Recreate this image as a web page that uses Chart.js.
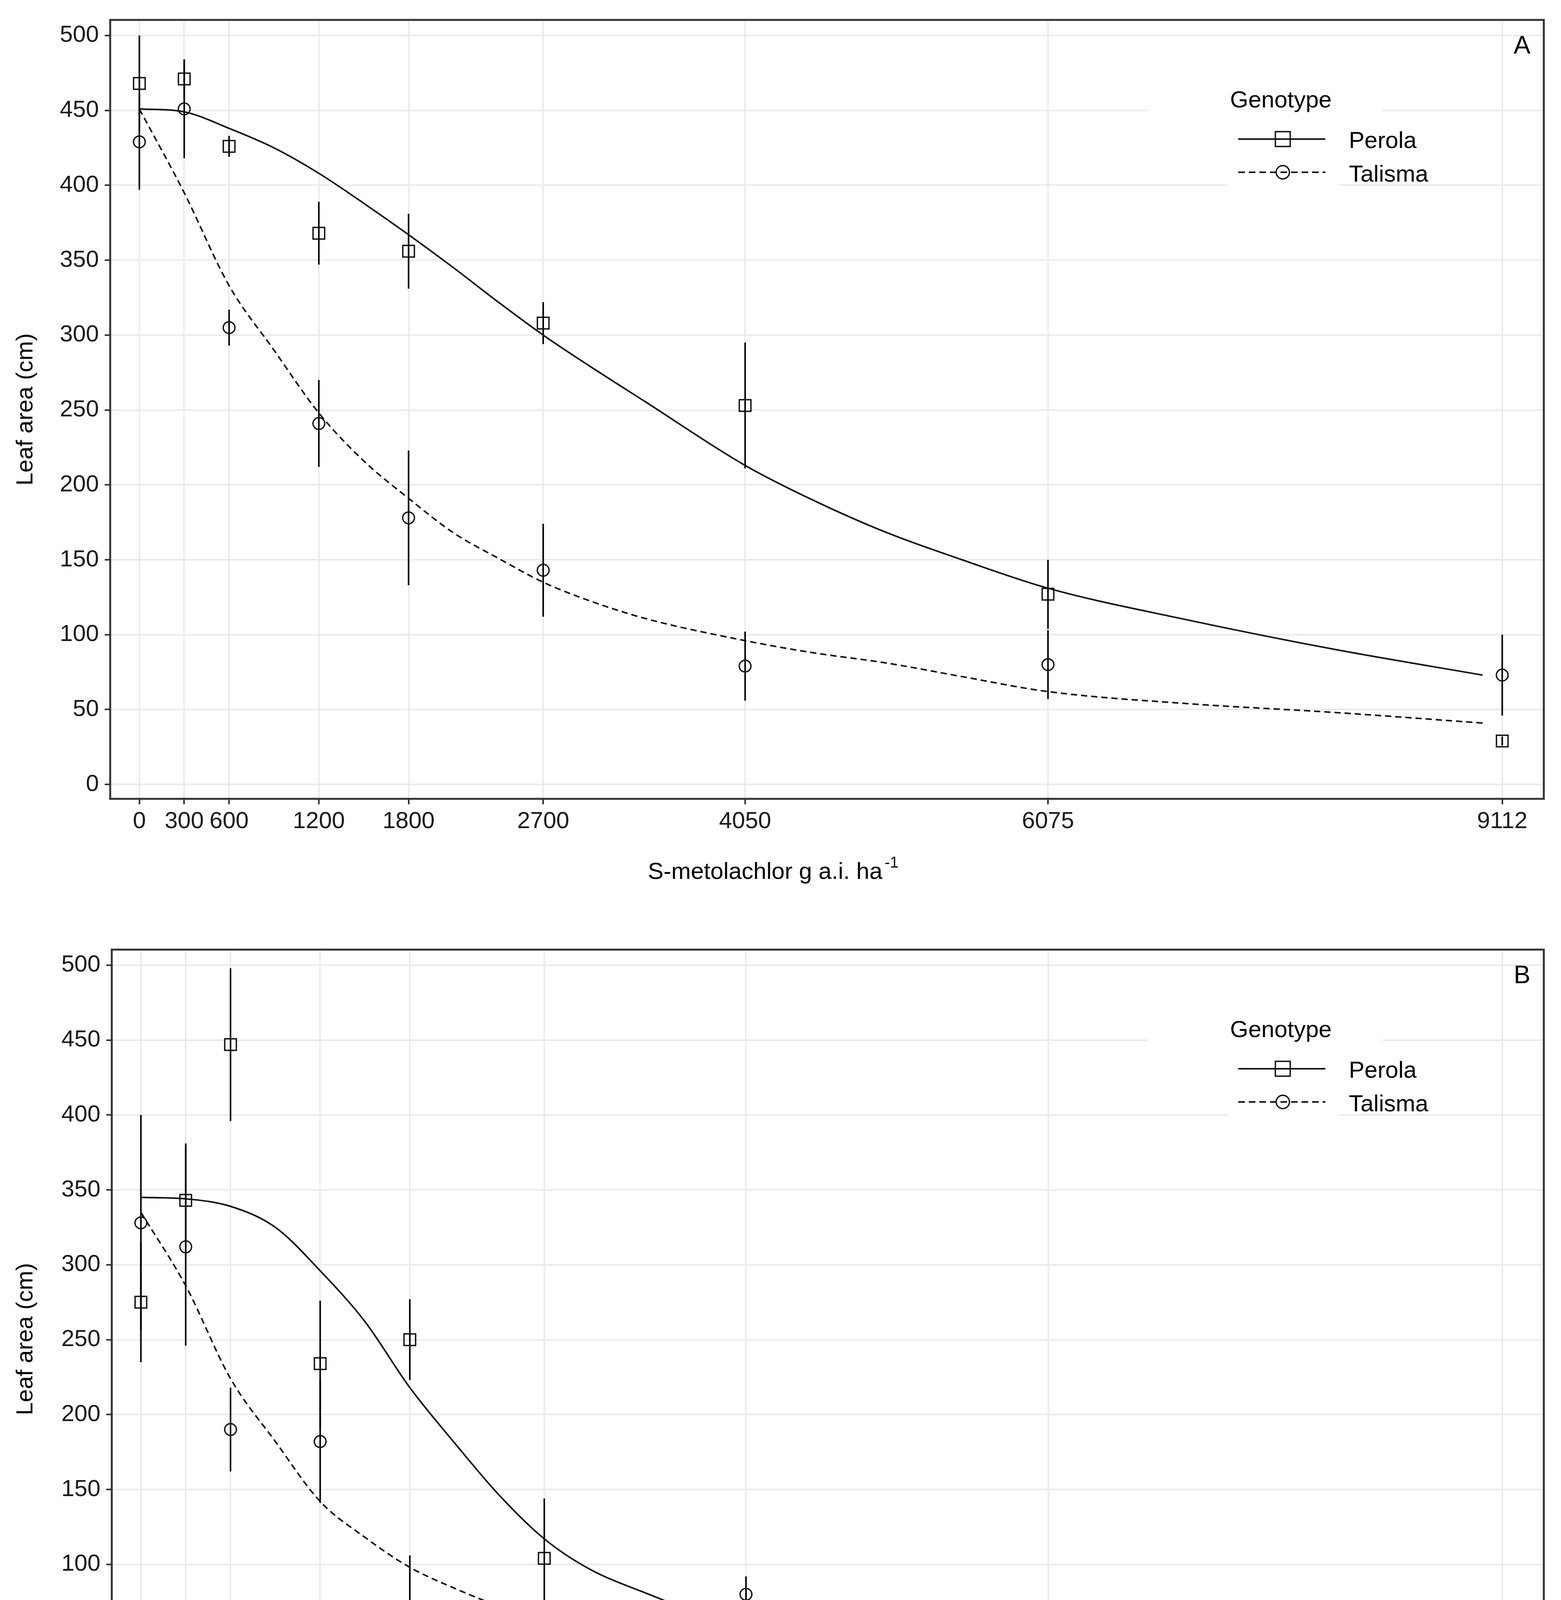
<!DOCTYPE html>
<html>
<head>
<meta charset="utf-8">
<script src="https://cdn.jsdelivr.net/npm/chart.js@4.4.1/dist/chart.umd.min.js"></script>
<style>
  html, body { margin: 0; padding: 0; background: #fff; }
  body { width: 3995px; height: 4669px; position: relative; overflow: hidden; }
  .panel { position: absolute; left: 0; width: 3995px; }
  #panelA { top: 0; height: 2330px; }
  #panelB { top: 2380px; height: 2289px; }
</style>
</head>
<body>
<div class="panel" id="panelA"><canvas id="chartA"></canvas></div>
<div class="panel" id="panelB"><canvas id="chartB"></canvas></div>
<script>
// ========== DATOS ==========

// dosis (g a.i. ha-1) y ticks
const doses = [0, 300, 600, 1200, 1800, 2700, 4050, 6075, 9112];
const yTicks = [0, 50, 100, 150, 200, 250, 300, 350, 400, 450, 500];

// dosis donde se leyeron las curvas ajustadas
const fitDoses = [0, 300, 600, 900, 1200, 1500, 1800, 2100, 2400, 2700, 3000, 3375, 4050, 4500, 5000, 5500, 6075, 7000, 8000, 8980];

// Panel A
const perolaA = [468, 471, 426, 368, 356, 308, 253, 127, 29];
const perolaSdA = [32, 13, 7, 21, 25, 14, 42, 23, 3];
const talismaA = [429, 451, 305, 241, 178, 143, 79, 80, 73];
const talismaSdA = [32, 33, 12, 29, 45, 31, 23, 23, 27];
const perolaFitA = [451, 449, 438, 425, 408, 388, 367, 345, 322, 300, 280, 256, 213, 190, 168, 150, 131, 110, 90, 73];
const talismaFitA = [451, 395, 333, 290, 248, 216, 191, 168, 151, 135, 123, 111, 96, 88, 81, 72, 62, 54, 48, 41];

// Panel B
const perolaB = [275, 343, 447, 234, 250, 104, 53, 45, 28];
const perolaSdB = [40, 38, 51, 42, 27, 40, 27, 6, 10];
const talismaB = [328, 312, 190, 182, 71, 50, 80, 9, 17];
const talismaSdB = [72, 66, 28, 41, 35, 24, 12, 0, 6];
const perolaFitB = [345, 344, 339, 325, 296, 262, 218, 181, 146, 117, 97, 81, 57, 52, 47, 42, 37, 34, 32, 30];
const talismaFitB = [335, 286, 224, 182, 142, 118, 98, 84, 72, 63, 57, 51, 41, 37, 34, 31, 28, 25, 22, 20];

Chart.defaults.font.family = "'Liberation Sans', Arial, sans-serif";
Chart.defaults.color = '#1a1a1a';

function pares(xs, ys) {
    return xs.map((x, i) => ({ x: x, y: ys[i] }));
}

// Plugin: barras de error, borde, leyenda, letra y titulo del eje x
const extrasPlugin = {
    id: 'extras',
    beforeDatasetsDraw(chart, args, opts) {
        const { ctx, scales: { x, y } } = chart;
        ctx.save();
        ctx.strokeStyle = '#000';
        ctx.lineWidth = 4;
        opts.bars.forEach(b => {
            b.mean.forEach((m, i) => {
                const sd = b.sd[i];
                if (!sd) return;
                const px = x.getPixelForValue(doses[i]);
                ctx.beginPath();
                ctx.moveTo(px, y.getPixelForValue(m - sd));
                ctx.lineTo(px, y.getPixelForValue(m + sd));
                ctx.stroke();
            });
        });
        ctx.restore();
    },
    afterDatasetsDraw(chart, args, opts) {
        const { ctx, chartArea: a } = chart;
        const T = a.top;
        ctx.save();
        // borde del panel
        ctx.strokeStyle = '#333';
        ctx.lineWidth = 5;
        ctx.strokeRect(a.left, a.top, a.right - a.left, a.bottom - a.top);

        // fondo de la leyenda
        ctx.fillStyle = '#fff';
        ctx.fillRect(2938, T + 150, 600, 268);
        ctx.fillRect(3141, T + 240, 282, 192);

        ctx.fillStyle = '#000';
        ctx.textBaseline = 'alphabetic';
        ctx.textAlign = 'left';
        ctx.font = "60px 'Liberation Sans', Arial, sans-serif";
        ctx.fillText('Genotype', 3148, T + 224);
        ctx.fillText('Perola', 3452, T + 328);
        ctx.fillText('Talisma', 3452, T + 414);

        ctx.strokeStyle = '#111';
        ctx.lineWidth = 4;
        ctx.beginPath();
        ctx.moveTo(3169, T + 305);
        ctx.lineTo(3392, T + 305);
        ctx.stroke();
        ctx.lineWidth = 3.5;
        ctx.strokeRect(3283 - 19, T + 305 - 19, 38, 38);

        ctx.lineWidth = 4;
        ctx.setLineDash([17, 10]);
        ctx.beginPath();
        ctx.moveTo(3169, T + 390);
        ctx.lineTo(3392, T + 390);
        ctx.stroke();
        ctx.setLineDash([]);
        ctx.lineWidth = 3.5;
        ctx.beginPath();
        ctx.arc(3283, T + 390, 17, 0, Math.PI * 2);
        ctx.stroke();

        // letra del panel
        ctx.font = "64px 'Liberation Sans', Arial, sans-serif";
        ctx.fillText(opts.letter, 3874, T + 86);

        // titulo del eje x con superindice
        const base = a.bottom + opts.titleOffset;
        ctx.font = "60px 'Liberation Sans', Arial, sans-serif";
        const txt = 'S-metolachlor g a.i. ha';
        ctx.fillText(txt, 1658, base);
        const w = ctx.measureText(txt).width;
        ctx.font = "40px 'Liberation Sans', Arial, sans-serif";
        ctx.fillText('-1', 1658 + w + 6, base - 29);
        ctx.restore();
    }
};

function crearPanel(id, p) {
    const ctx = document.getElementById(id).getContext('2d');
    return new Chart(ctx, {
        type: 'scatter',
        data: {
            datasets: [
                {
                    label: 'Perola',
                    data: pares(doses, p.perola),
                    pointStyle: 'rect',
                    pointRadius: 21,
                    borderWidth: 3.5,
                    borderColor: '#111',
                    backgroundColor: 'rgba(0,0,0,0)'
                },
                {
                    label: 'Talisma',
                    data: pares(doses, p.talisma),
                    pointStyle: 'circle',
                    pointRadius: 15,
                    borderWidth: 3.5,
                    borderColor: '#111',
                    backgroundColor: 'rgba(0,0,0,0)'
                },
                {
                    label: 'Perola ajuste',
                    data: pares(fitDoses, p.perolaFit),
                    showLine: true,
                    pointRadius: 0,
                    borderColor: '#111',
                    borderWidth: 4,
                    cubicInterpolationMode: 'monotone'
                },
                {
                    label: 'Talisma ajuste',
                    data: pares(fitDoses, p.talismaFit),
                    showLine: true,
                    pointRadius: 0,
                    borderColor: '#111',
                    borderWidth: 4,
                    borderDash: [16, 10],
                    cubicInterpolationMode: 'monotone'
                }
            ]
        },
        options: {
            responsive: true,
            maintainAspectRatio: false,
            animation: false,
            devicePixelRatio: 1,
            layout: { padding: { top: p.padTop, right: p.padRight, left: 0, bottom: 0 } },
            plugins: {
                legend: { display: false },
                tooltip: { enabled: false },
                extras: {
                    letter: p.letter,
                    titleOffset: p.titleOffset,
                    bars: [
                        { mean: p.perola, sd: p.perolaSd },
                        { mean: p.talisma, sd: p.talismaSd }
                    ]
                }
            },
            scales: {
                x: {
                    type: 'linear',
                    min: -195,
                    max: 9390,
                    afterBuildTicks: s => { s.ticks = doses.map(v => ({ value: v })); },
                    afterFit: s => { s.height = p.xAxisHeight; },
                    ticks: {
                        autoSkip: false,
                        maxRotation: 0,
                        minRotation: 0,
                        padding: 8,
                        color: '#1a1a1a',
                        font: { size: 60 },
                        callback: v => String(v)
                    },
                    grid: { color: '#ebebeb', lineWidth: 4, tickColor: '#333', tickWidth: 4, tickLength: 14 },
                    border: { display: false }
                },
                y: {
                    type: 'linear',
                    min: -9.6,
                    max: 510.4,
                    afterBuildTicks: s => { s.ticks = yTicks.map(v => ({ value: v })); },
                    afterFit: s => { s.width = p.yAxisWidth; },
                    ticks: {
                        padding: 15,
                        color: '#1a1a1a',
                        font: { size: 60 },
                        callback: v => String(v)
                    },
                    grid: { color: '#ebebeb', lineWidth: 4, tickColor: '#333', tickWidth: 4, tickLength: 14 },
                    border: { display: false },
                    title: {
                        display: true,
                        text: 'Leaf area (cm)',
                        color: '#000',
                        font: { size: 60 },
                        padding: { top: 30, bottom: 0 }
                    }
                }
            }
        },
        plugins: [extrasPlugin]
    });
}

crearPanel('chartA', {
    perola: perolaA, perolaSd: perolaSdA,
    talisma: talismaA, talismaSd: talismaSdA,
    perolaFit: perolaFitA, talismaFit: talismaFitA,
    letter: 'A', padTop: 44, padRight: 44,
    yAxisWidth: 282, xAxisHeight: 285, titleOffset: 205
});

crearPanel('chartB', {
    perola: perolaB, perolaSd: perolaSdB,
    talisma: talismaB, talismaSd: talismaSdB,
    perolaFit: perolaFitB, talismaFit: talismaFitB,
    letter: 'B', padTop: 43, padRight: 44,
    yAxisWidth: 286, xAxisHeight: 244, titleOffset: 215
});
</script>
</body>
</html>
